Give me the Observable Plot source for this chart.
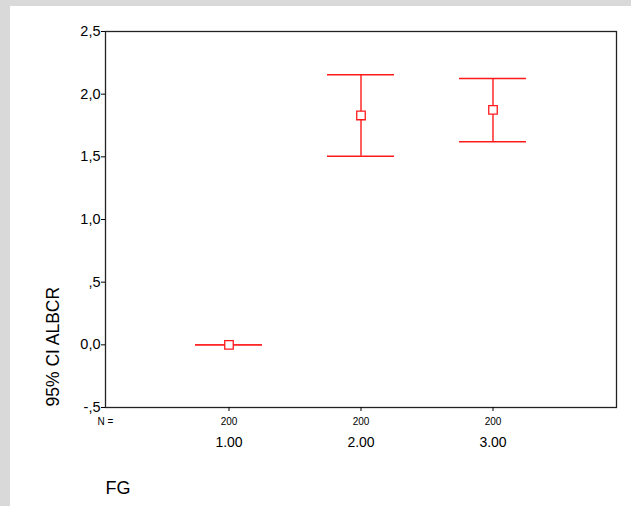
<!DOCTYPE html>
<html><head><meta charset="utf-8">
<script src="https://cdn.jsdelivr.net/npm/d3@7"></script>
<script src="https://cdn.jsdelivr.net/npm/@observablehq/plot@0.6"></script>
<style>
body{margin:0;background:#fff}
#chart{width:631px;height:506px;background:linear-gradient(#d9d9d9,#d9d9d9) top left/100% 6px no-repeat,linear-gradient(#d9d9d9,#d9d9d9) top left/10px 100% no-repeat,#fff}
#chart svg{display:block;background:transparent !important}
</style>
</head><body><div id="chart"></div>
<script>
const groups = ["1.00", "2.00", "3.00"];
const means = [0.0, 1.83, 1.875];
const lower = [0.0, 1.505, 1.62];
const upper = [0.0, 2.155, 2.125];
const nLabels = ["200", "200", "200"];
const yTicks = [-0.5, 0, 0.5, 1, 1.5, 2, 2.5];
const yTickLabels = ["-,5", "0,0", ",5", "1,0", "1,5", "2,0", "2,5"];
const yTitle = "95% CI ALBCR";
const xTitle = "FG";
const nTitle = "N =";

const data = groups.map((g, i) => ({g, mean: means[i], lo: lower[i], hi: upper[i], n: nLabels[i]}));
const yTickData = yTicks.map((v, i) => ({v, label: yTickLabels[i]}));
const red = "#ff1a1a";
const font = "'Liberation Sans', Arial, Helvetica, sans-serif";

const chart = Plot.plot({
  width: 631, height: 506,
  marginLeft: 105, marginRight: 15, marginTop: 31, marginBottom: 99,
  style: {fontFamily: font, fontSize: "13px", color: "#000"},
  x: {type: "band", domain: groups, paddingInner: 0.494, paddingOuter: 0.675, label: null, axis: null},
  y: {domain: [-0.5, 2.5], label: null, axis: null},
  marks: [
    Plot.frame({stroke: "#222", strokeWidth: 1.3}),
    Plot.axisY(yTicks, {tickSize: 4, tickFormat: () => "", label: null}),
    Plot.axisX({tickSize: 4, tickFormat: () => "", label: null}),
    Plot.text(yTickData, {y: "v", text: "label", frameAnchor: "left", dx: -5, textAnchor: "end", lineAnchor: "middle", fontSize: 14.5}),
    Plot.text(groups, {x: d => d, text: d => d, frameAnchor: "bottom", dy: 30, lineAnchor: "top", fontSize: 14}),
    Plot.text(data, {x: "g", text: "n", frameAnchor: "bottom", dy: 14, fontSize: 10, lineAnchor: "middle"}),
    Plot.text([nTitle], {text: d => d, frameAnchor: "bottom-left", dy: 14, fontSize: 10, lineAnchor: "middle", textAnchor: "middle"}),
    Plot.ruleX(data, {x: "g", y1: "lo", y2: "hi", stroke: red, strokeWidth: 1.4}),
    Plot.tickY(data, {x: "g", y: "lo", stroke: red, strokeWidth: 1.4}),
    Plot.tickY(data, {x: "g", y: "hi", stroke: red, strokeWidth: 1.4}),
    Plot.dot(data, {x: "g", y: "mean", symbol: "square", r: 4.8, stroke: red, fill: "white", strokeWidth: 1.3}),
    Plot.text([xTitle], {text: d => d, frameAnchor: "bottom-left", dy: 86, textAnchor: "start", lineAnchor: "bottom", fontSize: 18}),
    Plot.text([yTitle], {text: d => d, frameAnchor: "bottom-left", dx: -47, dy: -1, rotate: -90, textAnchor: "start", lineAnchor: "bottom", fontSize: 17.5})
  ]
});
document.getElementById("chart").append(chart);
</script>
</body></html>
